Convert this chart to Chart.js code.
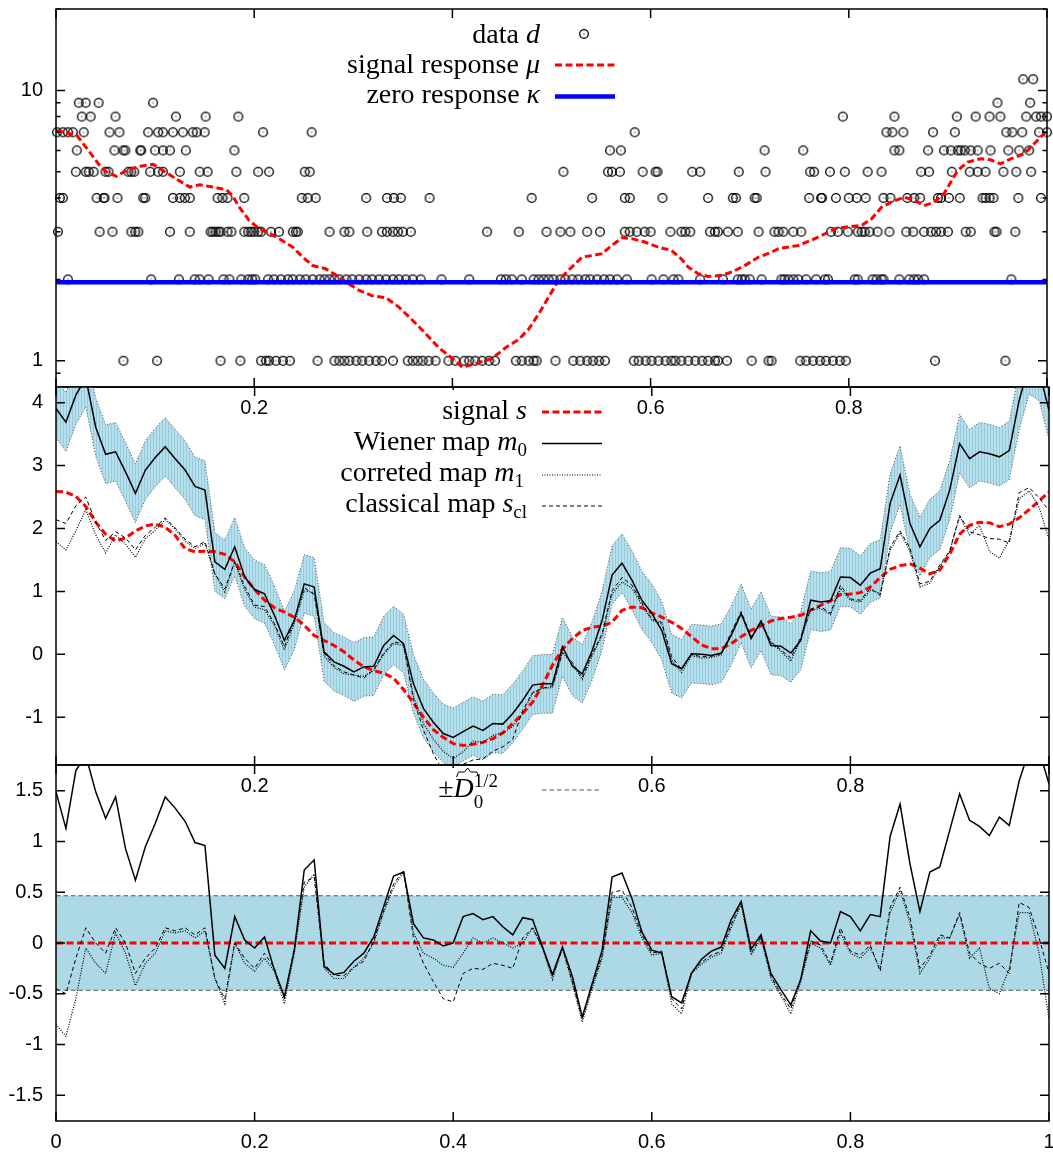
<!DOCTYPE html>
<html>
<head>
<meta charset="utf-8">
<script src="https://cdn.jsdelivr.net/npm/chart.js@4.4.0/dist/chart.umd.min.js"></script>
<style>
  html, body { margin: 0; padding: 0; background: #fff; }
  #wrap { position: relative; width: 1053px; height: 1153px; overflow: hidden; background: #fff; }
  #wrap canvas { position: absolute; left: 0; }
</style>
</head>
<body>
<div id="wrap">
  <canvas id="topChart" width="1053" height="420" style="top:0px"></canvas>
  <canvas id="midChart" width="1053" height="420" style="top:380px"></canvas>
  <canvas id="botChart" width="1053" height="395" style="top:758px"></canvas>
</div>
<script>
/* ================= DATA ================= */

// top panel: counts d at pixel positions, one list per count level
const d1 = [0.068,0.102,0.166,0.186,0.207,0.212,0.215,0.222,0.229,0.236,0.264,0.281,0.286,0.291,0.296,0.303,0.309,0.316,0.323,0.329,0.340,0.355,0.360,0.365,0.370,0.376,0.383,0.396,0.403,0.412,0.417,0.423,0.430,0.437,0.443,0.464,0.470,0.477,0.482,0.485,0.504,0.522,0.529,0.536,0.542,0.548,0.554,0.583,0.588,0.595,0.601,0.608,0.615,0.621,0.625,0.631,0.638,0.645,0.652,0.658,0.665,0.668,0.677,0.702,0.719,0.722,0.751,0.757,0.764,0.771,0.777,0.784,0.791,0.797,0.887,0.958];
const d2 = [0.012,0.096,0.124,0.140,0.145,0.154,0.169,0.175,0.187,0.194,0.198,0.201,0.214,0.220,0.227,0.234,0.239,0.246,0.252,0.259,0.266,0.271,0.276,0.281,0.286,0.293,0.299,0.306,0.313,0.319,0.326,0.333,0.340,0.346,0.353,0.360,0.368,0.389,0.417,0.449,0.454,0.460,0.470,0.482,0.487,0.492,0.497,0.502,0.509,0.514,0.521,0.527,0.534,0.539,0.546,0.553,0.559,0.566,0.576,0.601,0.613,0.623,0.628,0.650,0.673,0.688,0.692,0.695,0.700,0.712,0.732,0.735,0.739,0.744,0.749,0.757,0.767,0.776,0.779,0.806,0.809,0.824,0.828,0.833,0.835,0.851,0.861,0.866,0.870,0.876,0.964];
const d3 = [0.002,0.044,0.057,0.076,0.080,0.083,0.115,0.135,0.156,0.158,0.161,0.164,0.166,0.173,0.177,0.190,0.194,0.197,0.200,0.204,0.207,0.217,0.225,0.239,0.242,0.244,0.276,0.291,0.296,0.314,0.329,0.334,0.340,0.345,0.350,0.358,0.435,0.467,0.495,0.509,0.519,0.536,0.549,0.574,0.579,0.586,0.594,0.600,0.620,0.631,0.635,0.640,0.660,0.665,0.668,0.678,0.688,0.709,0.725,0.729,0.734,0.744,0.752,0.782,0.789,0.799,0.809,0.813,0.816,0.821,0.829,0.841,0.858,0.865,0.876,0.883,0.888,0.893,0.900,0.918,0.923,0.947,0.949,0.968];
const d4 = [0.004,0.007,0.041,0.048,0.049,0.062,0.088,0.090,0.118,0.125,0.130,0.135,0.163,0.168,0.173,0.190,0.248,0.254,0.262,0.313,0.334,0.341,0.348,0.377,0.480,0.541,0.574,0.579,0.612,0.658,0.683,0.686,0.705,0.707,0.760,0.772,0.773,0.787,0.800,0.808,0.817,0.835,0.842,0.859,0.866,0.872,0.890,0.893,0.901,0.912,0.935,0.938,0.942,0.946,0.971,0.994];
const d5 = [0.020,0.030,0.033,0.038,0.050,0.053,0.073,0.076,0.079,0.095,0.103,0.108,0.125,0.145,0.153,0.182,0.204,0.215,0.251,0.256,0.512,0.557,0.561,0.569,0.592,0.605,0.607,0.642,0.650,0.689,0.716,0.761,0.765,0.781,0.796,0.819,0.833,0.873,0.881,0.904,0.922,0.930,0.938,0.956,0.969,0.984];
const d6 = [0.021,0.059,0.068,0.070,0.085,0.086,0.100,0.108,0.115,0.131,0.180,0.559,0.570,0.715,0.754,0.846,0.851,0.880,0.896,0.903,0.910,0.913,0.917,0.923,0.930,0.943,0.961,0.972,0.982];
const d7 = [0.001,0.007,0.012,0.017,0.028,0.054,0.064,0.093,0.103,0.108,0.118,0.128,0.138,0.142,0.150,0.209,0.258,0.584,0.838,0.844,0.855,0.885,0.907,0.959,0.965,0.975,0.992,1.000];
const d8 = [0.026,0.035,0.060,0.121,0.151,0.184,0.794,0.846,0.909,0.928,0.942,0.953,0.979,0.989,0.994,1.000];
const d9 = [0.023,0.030,0.043,0.098,0.950,0.983];
const d11 = [0.976,0.986];
const countLevels = [1, 2, 3, 4, 5, 6, 7, 8, 9, 11];
const countPositions = [d1, d2, d3, d4, d5, d6, d7, d8, d9, d11];

// top panel: signal response mu
const muX = [0,0.021,0.034,0.044,0.051,0.061,0.071,0.085,0.098,0.108,0.121,0.135,0.145,0.158,0.172,0.178,0.185,0.195,0.205,0.215,0.225,0.239,0.249,0.259,0.272,0.283,0.293,0.306,0.319,0.333,0.346,0.360,0.373,0.386,0.400,0.410,0.423,0.440,0.454,0.467,0.477,0.487,0.497,0.507,0.517,0.531,0.541,0.551,0.561,0.571,0.581,0.594,0.608,0.621,0.631,0.638,0.648,0.658,0.672,0.682,0.695,0.709,0.722,0.729,0.749,0.762,0.776,0.786,0.796,0.813,0.823,0.833,0.843,0.856,0.866,0.876,0.886,0.896,0.910,0.920,0.933,0.943,0.953,0.964,0.977,0.987,1];
const muY = [7.11,6.82,5.91,5.28,4.99,4.81,5.06,5.24,5.33,5.06,4.71,4.39,4.48,4.39,4.29,4.09,3.70,3.30,3.08,2.97,2.83,2.63,2.42,2.25,2.19,2.07,1.95,1.82,1.74,1.71,1.58,1.41,1.26,1.12,1.02,0.947,0.975,1.02,1.12,1.20,1.31,1.49,1.72,1.98,2.16,2.42,2.45,2.49,2.67,2.85,2.83,2.75,2.63,2.56,2.38,2.22,2.10,2.05,2.07,2.13,2.25,2.42,2.52,2.60,2.67,2.79,2.95,3.08,3.12,3.17,3.35,3.70,3.86,4.03,3.92,3.75,3.86,4.15,5.06,5.43,5.59,5.54,5.35,5.59,5.83,6.35,7.10];
const kappa = 1.95;

// middle and bottom panels share the x grid
const xGrid = [0,0.01,0.02,0.03,0.04,0.05,0.06,0.07,0.08,0.09,0.1,0.11,0.12,0.13,0.14,0.15,0.16,0.17,0.18,0.19,0.2,0.21,0.22,0.23,0.24,0.25,0.26,0.27,0.28,0.29,0.3,0.31,0.32,0.33,0.34,0.35,0.36,0.37,0.38,0.39,0.4,0.41,0.42,0.43,0.44,0.45,0.46,0.47,0.48,0.49,0.5,0.51,0.52,0.53,0.54,0.55,0.56,0.57,0.58,0.59,0.6,0.61,0.62,0.63,0.64,0.65,0.66,0.67,0.68,0.69,0.7,0.71,0.72,0.73,0.74,0.75,0.76,0.77,0.78,0.79,0.8,0.81,0.82,0.83,0.84,0.85,0.86,0.87,0.88,0.89,0.9,0.91,0.92,0.93,0.94,0.95,0.96,0.97,0.98,0.99,1];

// middle panel: maps
const signalS = [2.59,2.58,2.51,2.35,2.10,1.91,1.80,1.85,1.96,2.04,2.07,2.02,1.89,1.68,1.63,1.64,1.63,1.59,1.47,1.23,1.03,0.86,0.74,0.67,0.59,0.46,0.30,0.22,0.14,0.04,-0.09,-0.20,-0.26,-0.30,-0.38,-0.56,-0.77,-1.00,-1.20,-1.32,-1.42,-1.45,-1.43,-1.40,-1.34,-1.25,-1.10,-0.94,-0.76,-0.49,-0.17,0.08,0.25,0.38,0.43,0.45,0.51,0.70,0.75,0.74,0.66,0.59,0.51,0.41,0.28,0.15,0.09,0.09,0.17,0.28,0.38,0.45,0.53,0.57,0.59,0.62,0.70,0.78,0.85,0.95,0.96,0.98,1.07,1.22,1.35,1.41,1.44,1.37,1.28,1.34,1.59,1.91,2.05,2.10,2.09,2.03,2.07,2.17,2.30,2.44,2.58];
const wienerM0 = [3.91,3.69,4.12,4.40,3.61,3.18,3.22,2.90,2.56,2.93,3.13,3.30,3.11,2.93,2.67,2.61,1.47,1.35,1.71,1.23,1.03,0.96,0.62,0.22,0.54,1.12,1.07,0.04,-0.12,-0.19,-0.28,-0.20,-0.19,0.14,0.30,0.17,-0.47,-0.86,-1.08,-1.26,-1.32,-1.23,-1.14,-1.21,-1.10,-1.11,-0.94,-0.73,-0.49,-0.47,-0.47,0.12,-0.19,-0.31,0.06,0.54,1.26,1.45,1.18,0.86,0.65,0.38,-0.15,-0.23,0.01,0.00,-0.02,0.02,0.30,0.65,0.25,0.53,0.14,0.13,0.02,0.22,0.86,0.83,0.85,1.23,1.22,1.10,1.29,1.36,2.40,2.85,2.08,1.71,2.00,2.13,2.61,3.35,3.11,3.22,3.19,3.14,3.24,4.04,4.60,4.50,3.88];
const correctedM1 = [1.79,1.66,1.96,2.30,1.90,1.61,1.90,1.75,1.54,1.84,1.97,2.14,1.99,1.80,1.68,1.76,1.28,0.99,1.47,1.03,0.75,0.71,0.46,0.07,0.49,1.01,0.98,-0.03,-0.21,-0.31,-0.33,-0.35,-0.26,0.00,0.17,0.14,-0.67,-1.10,-1.35,-1.54,-1.66,-1.55,-1.38,-1.40,-1.29,-1.25,-1.15,-0.94,-0.61,-0.54,-0.53,0.03,-0.15,-0.40,-0.02,0.30,0.96,1.15,1.05,0.79,0.54,0.49,-0.09,-0.29,-0.02,-0.06,-0.05,-0.01,0.32,0.66,0.26,0.50,0.18,0.05,-0.11,0.24,0.70,0.73,0.63,1.05,0.86,0.83,1.02,0.97,1.65,1.93,1.64,1.07,1.13,1.39,1.64,2.19,1.90,2.05,1.64,1.53,1.82,2.47,2.60,2.34,1.83];
const classicalScl = [2.14,2.08,2.36,2.50,2.10,1.81,1.95,1.85,1.66,1.89,2.02,2.17,2.01,1.83,1.71,1.79,1.28,1.04,1.47,1.08,0.78,0.76,0.49,0.12,0.54,1.06,0.95,0.02,-0.18,-0.28,-0.33,-0.38,-0.24,0.02,0.20,0.16,-0.72,-1.20,-1.58,-1.87,-2.00,-1.75,-1.68,-1.66,-1.54,-1.47,-1.35,-0.89,-0.61,-0.54,-0.50,0.03,-0.13,-0.37,0.01,0.33,1.01,1.22,1.10,0.82,0.56,0.51,-0.04,-0.24,0.00,-0.04,-0.03,0.01,0.35,0.68,0.28,0.51,0.20,0.07,-0.06,0.27,0.72,0.76,0.65,1.10,0.88,0.86,1.05,0.94,1.70,1.96,1.69,1.12,1.16,1.42,1.64,2.21,1.95,1.90,1.84,1.83,1.77,2.57,2.65,2.49,2.28];

// bottom panel: residuals against the signal
const resid0 = [1.49,1.13,1.70,1.85,1.49,1.23,1.44,0.93,0.62,0.95,1.18,1.44,1.33,1.20,0.99,0.96,-0.12,-0.25,0.26,0.03,-0.05,0.06,-0.27,-0.53,-0.07,0.72,0.82,-0.23,-0.31,-0.29,-0.18,-0.10,0.06,0.36,0.66,0.70,0.19,0.05,0.03,-0.03,0.00,0.26,0.29,0.23,0.26,0.16,0.08,0.25,0.23,-0.04,-0.31,-0.04,-0.33,-0.73,-0.40,-0.07,0.65,0.69,0.44,0.11,-0.07,-0.10,-0.53,-0.59,-0.30,-0.16,-0.08,-0.04,0.23,0.41,-0.06,0.08,-0.30,-0.46,-0.61,-0.36,0.12,0.02,0.00,0.31,0.26,0.12,0.28,0.26,1.05,1.37,0.78,0.31,0.70,0.75,1.11,1.47,1.21,1.15,1.06,1.24,1.16,1.60,1.90,1.90,1.57];
const resid1 = [-0.80,-0.92,-0.55,-0.05,-0.20,-0.30,0.10,-0.10,-0.42,-0.20,-0.10,0.12,0.10,0.12,0.05,0.12,-0.35,-0.60,0.00,-0.20,-0.28,-0.15,-0.28,-0.60,-0.10,0.55,0.68,-0.25,-0.35,-0.35,-0.24,-0.15,0.00,0.30,0.55,0.70,0.10,-0.10,-0.15,-0.22,-0.24,-0.10,0.05,0.00,0.05,0.00,-0.05,0.00,0.15,-0.05,-0.36,-0.05,-0.40,-0.78,-0.45,-0.15,0.45,0.45,0.30,0.05,-0.12,-0.10,-0.60,-0.70,-0.30,-0.21,-0.14,-0.10,0.15,0.38,-0.12,0.05,-0.35,-0.52,-0.70,-0.38,0.00,-0.05,-0.22,0.10,-0.10,-0.15,-0.05,-0.25,0.30,0.52,0.20,-0.30,-0.15,0.05,0.05,0.28,-0.15,-0.05,-0.45,-0.50,-0.25,0.30,0.30,-0.10,-0.75];
const residCl = [-0.45,-0.50,-0.15,0.15,0.00,-0.10,0.15,0.00,-0.30,-0.15,-0.05,0.15,0.12,0.15,0.08,0.15,-0.35,-0.55,0.00,-0.15,-0.25,-0.10,-0.25,-0.55,-0.05,0.60,0.65,-0.20,-0.32,-0.32,-0.24,-0.18,0.02,0.32,0.58,0.72,0.05,-0.20,-0.38,-0.55,-0.58,-0.30,-0.25,-0.26,-0.20,-0.22,-0.25,0.05,0.15,-0.05,-0.33,-0.05,-0.38,-0.75,-0.42,-0.12,0.50,0.52,0.35,0.08,-0.10,-0.08,-0.55,-0.65,-0.28,-0.19,-0.12,-0.08,0.18,0.40,-0.10,0.06,-0.33,-0.50,-0.65,-0.35,0.02,-0.02,-0.20,0.15,-0.08,-0.12,-0.02,-0.28,0.35,0.55,0.25,-0.25,-0.12,0.08,0.05,0.30,-0.10,-0.20,-0.25,-0.20,-0.30,0.40,0.35,0.05,-0.30];
const sigmaHat = 0.466;   // +-D0^(1/2)

/* ================= HELPERS ================= */

const SANS = '"Liberation Sans", Arial, sans-serif';
const SERIF = '"Liberation Serif", "Times New Roman", serif';
const KEY_R = `28px ${SERIF}`;
const KEY_I = `italic 28px ${SERIF}`;
const KEY_S = `19px ${SERIF}`;
const RED_DASH = [7, 3.5];
const LIGHTBLUE = 'rgb(173,216,230)';

function pts(xs, ys) {
  return xs.map((x, i) => ({ x, y: ys[i] }));
}

function circleDot() {
  const c = document.createElement('canvas');
  c.width = 12; c.height = 12;
  const g = c.getContext('2d');
  g.strokeStyle = '#000';
  g.lineWidth = 1.3;
  g.beginPath();
  g.arc(6, 6, 4.3, 0, Math.PI * 2);
  g.stroke();
  g.fillStyle = '#000';
  g.fillRect(5.5, 5.5, 1, 1);
  return c;
}

function stripes(ctx) {
  const c = document.createElement('canvas');
  c.width = 3; c.height = 1;
  const g = c.getContext('2d');
  g.fillStyle = 'rgb(182,223,236)';
  g.fillRect(0, 0, 3, 1);
  g.fillStyle = 'rgb(150,202,220)';
  g.fillRect(0, 0, 1, 1);
  return ctx.createPattern(c, 'repeat');
}

function richText(ctx, parts, right, base) {
  let w = 0;
  parts.forEach(p => {
    ctx.font = p.font;
    p.w = ctx.measureText(p.text).width;
    if (p.adv !== false) w += p.w;
  });
  let x = right - w;
  parts.forEach(p => {
    ctx.font = p.font;
    p.x = x;
    ctx.fillText(p.text, x, base + (p.dy || 0));
    if (p.adv !== false) x += p.w;
  });
  return parts;
}

function sampleLine(ctx, x0, x1, y, color, width, dash) {
  ctx.save();
  ctx.strokeStyle = color;
  ctx.lineWidth = width;
  ctx.setLineDash(dash || []);
  ctx.beginPath();
  ctx.moveTo(x0, y);
  ctx.lineTo(x1, y);
  ctx.stroke();
  ctx.restore();
}

// border box and inward ticks on all four sides, like the original plot
function framePlugin(id) {
  return {
    id,
    afterDatasetsDraw(chart) {
      const { ctx, chartArea: a } = chart;
      const x = chart.scales.x, y = chart.scales.y;
      ctx.save();
      ctx.strokeStyle = '#000';
      ctx.lineWidth = 1.5;
      ctx.beginPath();
      x.ticks.forEach(t => {
        const px = x.getPixelForValue(t.value);
        ctx.moveTo(px, a.bottom); ctx.lineTo(px, a.bottom - 9);
        ctx.moveTo(px, a.top); ctx.lineTo(px, a.top + 9);
      });
      y.ticks.forEach(t => {
        const py = y.getPixelForValue(t.value);
        const len = t.label === '' ? 4.5 : 9;
        ctx.moveTo(a.left, py); ctx.lineTo(a.left + len, py);
        ctx.moveTo(a.right, py); ctx.lineTo(a.right - len, py);
      });
      ctx.stroke();
      ctx.strokeRect(a.left, a.top, a.right - a.left, a.bottom - a.top);
      ctx.restore();
    }
  };
}

function xAxis(height, showEnds) {
  return {
    type: 'linear', min: 0, max: 1,
    ticks: {
      stepSize: 0.2, autoSkip: false, maxRotation: 0, padding: 9,
      color: '#000', font: { family: SANS, size: 20 },
      callback: v => (!showEnds && (v === 0 || v === 1)) ? '' : String(Math.round(v * 10) / 10)
    },
    grid: { display: false, drawTicks: false },
    border: { display: false },
    afterFit: s => { s.height = height; s.paddingLeft = 0; s.paddingRight = 0; }
  };
}

function yAxis(extra) {
  return Object.assign({
    grid: { display: false, drawTicks: false },
    border: { display: false },
    afterFit: s => { s.width = 56; s.paddingTop = 0; s.paddingBottom = 0; }
  }, extra);
}

function linearTicks(step) {
  return {
    stepSize: step, padding: 13, color: '#000', font: { family: SANS, size: 20 },
    autoSkip: false, includeBounds: false,
    callback: v => String(Math.round(v * 10) / 10)
  };
}

const baseOptions = (padTop) => ({
  responsive: false,
  animation: false,
  devicePixelRatio: 1,
  events: [],
  layout: { padding: { top: padTop, right: 4, bottom: 0, left: 0 } },
  plugins: {
    legend: { display: false },
    tooltip: { enabled: false },
    filler: { drawTime: 'beforeDatasetsDraw' }
  }
});

const lineDs = (data, color, width, dash, order, extra) => Object.assign({
  data, showLine: true, borderColor: color, borderWidth: width, borderDash: dash || [],
  pointRadius: 0, fill: false, tension: 0, order
}, extra || {});

/* ================= TOP: DATA ================= */

const dot = circleDot();
const dataPoints = [];
countLevels.forEach((level, k) => {
  countPositions[k].forEach(x => dataPoints.push({ x, y: level }));
});

const logTickValues = [0.9, 1, 2, 3, 4, 5, 6, 7, 8, 9, 10, 20];

const topKey = {
  id: 'topKey',
  afterDraw(chart) {
    const ctx = chart.ctx;
    ctx.save();
    ctx.fillStyle = '#000';
    ctx.textBaseline = 'alphabetic';
    richText(ctx, [{ text: 'data ', font: KEY_R }, { text: 'd', font: KEY_I }], 540, 42.5);
    richText(ctx, [{ text: 'signal response ', font: KEY_R }, { text: 'μ', font: KEY_I }], 540, 73);
    richText(ctx, [{ text: 'zero response ', font: KEY_R }, { text: 'κ', font: KEY_I }], 540, 102.5);
    ctx.drawImage(dot, 584 - 6, 34 - 6);
    sampleLine(ctx, 555, 615, 65, '#ff0000', 3, RED_DASH);
    sampleLine(ctx, 555, 615, 96.5, '#0000ff', 4.5);
    ctx.restore();
  }
};

new Chart(document.getElementById('topChart'), {
  type: 'scatter',
  data: {
    datasets: [
      lineDs([{ x: 0, y: kappa }, { x: 1, y: kappa }], '#0000ff', 4.5, null, 1),
      lineDs(pts(muX, muY), '#ff0000', 3, RED_DASH, 2),
      { data: dataPoints, pointStyle: dot, pointRadius: 5, showLine: false, clip: false, order: 3 }
    ]
  },
  options: Object.assign(baseOptions(9), {
    scales: {
      x: xAxis(33, false),
      y: yAxis({
        type: 'logarithmic', min: 0.8, max: 20,
        afterBuildTicks: s => { s.ticks = logTickValues.map(v => ({ value: v })); },
        ticks: {
          padding: 13, color: '#000', font: { family: SANS, size: 20 }, autoSkip: false,
          callback: v => (v === 1 || v === 10) ? String(v) : ''
        }
      })
    }
  }),
  plugins: [framePlugin('topFrame'), topKey]
});

/* ================= MIDDLE: MAPS ================= */

const midCanvas = document.getElementById('midChart');
const bandPattern = stripes(midCanvas.getContext('2d'));

const midKey = {
  id: 'midKey',
  afterDraw(chart) {
    const ctx = chart.ctx, oy = 380;
    ctx.save();
    ctx.fillStyle = '#fff';
    ctx.fillRect(336, 390 - oy, 614 - 336, 522 - 390);
    ctx.fillStyle = '#000';
    richText(ctx, [{ text: 'signal ', font: KEY_R }, { text: 's', font: KEY_I }], 527, 419 - oy);
    richText(ctx, [{ text: 'Wiener map ', font: KEY_R }, { text: 'm', font: KEY_I }, { text: '0', font: KEY_S, dy: 6 }], 527, 450 - oy);
    richText(ctx, [{ text: 'correted map ', font: KEY_R }, { text: 'm', font: KEY_I }, { text: '1', font: KEY_S, dy: 6 }], 524, 481 - oy);
    richText(ctx, [{ text: 'classical map ', font: KEY_R }, { text: 's', font: KEY_I }, { text: 'cl', font: KEY_S, dy: 6 }], 527, 512 - oy);
    sampleLine(ctx, 542, 602, 412 - oy, '#ff0000', 3, RED_DASH);
    sampleLine(ctx, 542, 602, 443.5 - oy, '#000', 1.5);
    sampleLine(ctx, 542, 602, 475 - oy, '#000', 1.2, [1, 1.5]);
    sampleLine(ctx, 542, 602, 506 - oy, '#000', 1, [4, 3]);
    ctx.restore();
  }
};

new Chart(midCanvas, {
  type: 'scatter',
  data: {
    datasets: [
      lineDs(pts(xGrid, wienerM0.map(v => v + sigmaHat)), '#505050', 1, [1, 2], 10, { fill: '+1', backgroundColor: bandPattern }),
      lineDs(pts(xGrid, wienerM0.map(v => v - sigmaHat)), '#505050', 1, [1, 2], 10),
      lineDs(pts(xGrid, signalS), '#ff0000', 3, RED_DASH, 6),
      lineDs(pts(xGrid, wienerM0), '#000', 1.5, null, 5),
      lineDs(pts(xGrid, correctedM1), '#000', 1.2, [1, 1.5], 4),
      lineDs(pts(xGrid, classicalScl), '#000', 1, [4, 3], 3)
    ]
  },
  options: Object.assign(baseOptions(7), {
    scales: {
      x: xAxis(35, false),
      y: yAxis({ type: 'linear', min: -1.76, max: 4.25, ticks: linearTicks(1) })
    }
  }),
  plugins: [framePlugin('midFrame'), midKey]
});

/* ================= BOTTOM: RESIDUALS ================= */

const botKey = {
  id: 'botKey',
  afterDraw(chart) {
    const ctx = chart.ctx, oy = 758;
    ctx.save();
    ctx.fillStyle = '#fff';
    ctx.fillRect(418, 768 - oy, 614 - 418, 812 - 768);
    ctx.fillStyle = '#000';
    const parts = richText(ctx, [
      { text: '±', font: KEY_R },
      { text: 'D', font: KEY_I },
      { text: '0', font: KEY_S, dy: 11, adv: false },
      { text: '1/2', font: KEY_S, dy: -10 }
    ], 498, 797 - oy);
    // wide hat over D
    const d = parts[1];
    const hx0 = d.x + 3, hx1 = d.x + d.w + 5, hm = (hx0 + hx1) / 2, hy = 777 - oy;
    ctx.strokeStyle = '#000';
    ctx.lineWidth = 1;
    ctx.beginPath();
    ctx.moveTo(hx0, hy);
    ctx.lineTo(hx0 + 2, hy - 5);
    ctx.lineTo(hm - 3, hy - 5);
    ctx.lineTo(hm, hy - 9);
    ctx.lineTo(hm + 3, hy - 5);
    ctx.lineTo(hx1 - 2, hy - 5);
    ctx.lineTo(hx1, hy);
    ctx.stroke();
    sampleLine(ctx, 542, 602, 790 - oy, '#555', 1, [4.5, 3]);
    ctx.restore();
  }
};

new Chart(document.getElementById('botChart'), {
  type: 'scatter',
  data: {
    datasets: [
      lineDs([{ x: 0, y: sigmaHat }, { x: 1, y: sigmaHat }], '#555', 1, [4.5, 3], 10, { fill: '+1', backgroundColor: LIGHTBLUE }),
      lineDs([{ x: 0, y: -sigmaHat }, { x: 1, y: -sigmaHat }], '#555', 1, [4.5, 3], 10),
      lineDs([{ x: 0, y: 0 }, { x: 1, y: 0 }], '#ff0000', 3, RED_DASH, 6),
      lineDs(pts(xGrid, resid0), '#000', 1.5, null, 5),
      lineDs(pts(xGrid, resid1), '#000', 1.2, [1, 1.5], 4),
      lineDs(pts(xGrid, residCl), '#000', 1, [4, 3], 3)
    ]
  },
  options: Object.assign(baseOptions(7), {
    scales: {
      x: xAxis(32, true),
      y: yAxis({ type: 'linear', min: -1.755, max: 1.755, ticks: linearTicks(0.5) })
    }
  }),
  plugins: [framePlugin('botFrame'), botKey]
});
</script>
</body>
</html>
